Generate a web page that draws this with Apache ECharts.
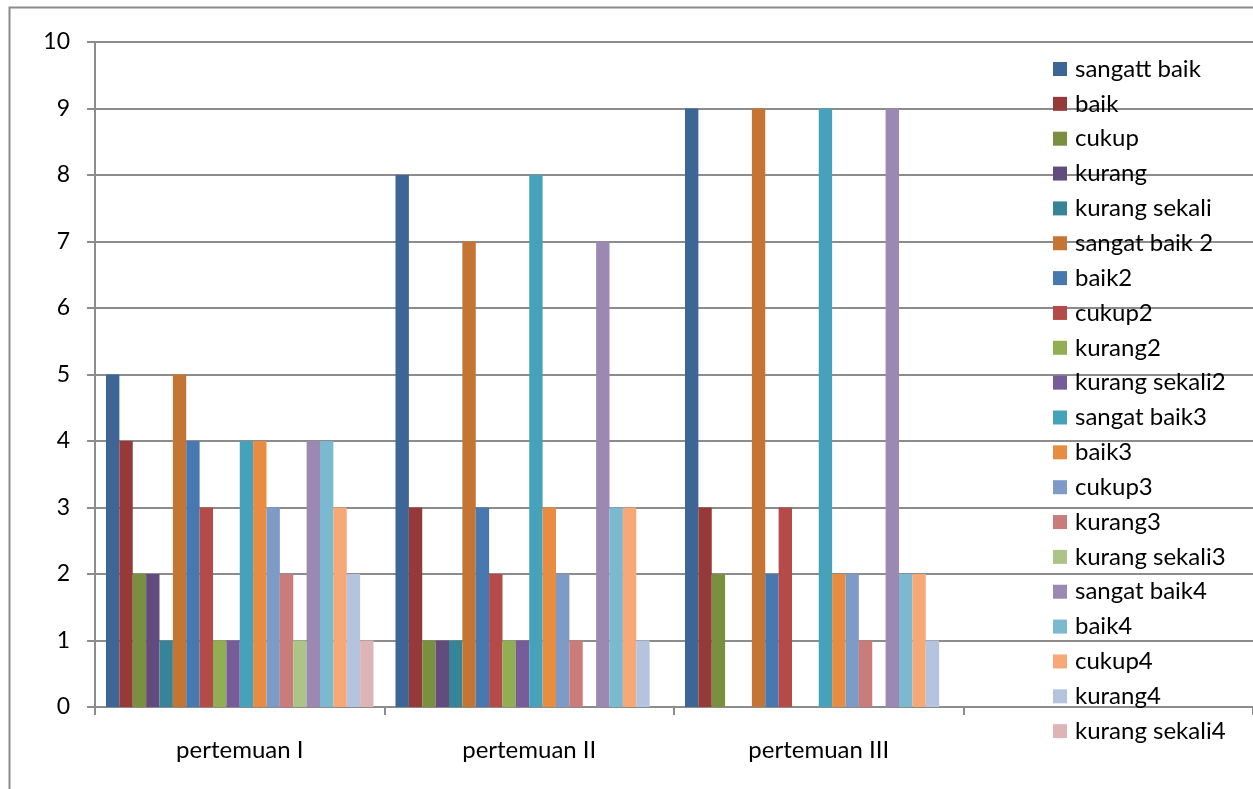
<!DOCTYPE html>
<html>
<head>
<meta charset="utf-8">
<script src="https://cdn.jsdelivr.net/npm/echarts@6/dist/echarts.min.js"></script>
<style>
  html, body { margin: 0; padding: 0; background: #fff; }
  #chart { width: 1253px; height: 789px; }
</style>
</head>
<body>
<div id="chart"></div>
<script>
// Meetings (the fourth slot is an empty category)
const categories = ['pertemuan I', 'pertemuan II', 'pertemuan III', ''];

// Series names, in legend order
const seriesNames = [
  'sangatt baik', 'baik', 'cukup', 'kurang', 'kurang sekali',
  'sangat baik 2', 'baik2', 'cukup2', 'kurang2', 'kurang sekali2',
  'sangat baik3', 'baik3', 'cukup3', 'kurang3', 'kurang sekali3',
  'sangat baik4', 'baik4', 'cukup4', 'kurang4', 'kurang sekali4'
];

// Counts per meeting, one array per series
const sangattBaik   = [5, 8, 9, null];
const baik          = [4, 3, 3, null];
const cukup         = [2, 1, 2, null];
const kurang        = [2, 1, 0, null];
const kurangSekali  = [1, 1, 0, null];
const sangatBaik2   = [5, 7, 9, null];
const baik2         = [4, 3, 2, null];
const cukup2        = [3, 2, 3, null];
const kurang2       = [1, 1, 0, null];
const kurangSekali2 = [1, 1, 0, null];
const sangatBaik3   = [4, 8, 9, null];
const baik3         = [4, 3, 2, null];
const cukup3        = [3, 2, 2, null];
const kurang3       = [2, 1, 1, null];
const kurangSekali3 = [1, 0, 0, null];
const sangatBaik4   = [4, 7, 9, null];
const baik4         = [4, 3, 2, null];
const cukup4        = [3, 3, 2, null];
const kurang4       = [2, 1, 1, null];
const kurangSekali4 = [1, 0, 0, null];

const seriesValues = [
  sangattBaik, baik, cukup, kurang, kurangSekali,
  sangatBaik2, baik2, cukup2, kurang2, kurangSekali2,
  sangatBaik3, baik3, cukup3, kurang3, kurangSekali3,
  sangatBaik4, baik4, cukup4, kurang4, kurangSekali4
];

// Y axis ticks
const yMin = 0, yMax = 10, yStep = 1;

const palette = [
  '#3D6596', '#953A39', '#7A9040', '#624C7E', '#388497',
  '#C47533', '#4878B0', '#B44B48', '#91AE53', '#765C98',
  '#46A2BA', '#E88C42', '#7E9BC8', '#CA7C7A', '#ACC586',
  '#9B89B3', '#7AB9CF', '#F6A977', '#B4C3DE', '#DEB5B6'
];

const FONT = 'Lato';
const chart = echarts.init(document.getElementById('chart'), null, { renderer: 'canvas' });

chart.setOption({
  backgroundColor: '#fff',
  animation: false,
  color: palette,
  textStyle: { fontFamily: FONT, color: '#000' },
  graphic: [{
    type: 'rect',
    left: 7, top: 5,
    shape: { width: 1270, height: 800 },
    style: { fill: 'none', stroke: '#8c8c8c', lineWidth: 2 },
    z: -1
  }],
  grid: { left: 95, top: 42, width: 1160, bottom: 82, containLabel: false },
  legend: {
    orient: 'vertical',
    left: 1053,
    top: 57,
    height: 725,
    padding: 0,
    itemWidth: 14,
    itemHeight: 14,
    itemGap: 10.85,
    icon: 'rect',
    data: seriesNames,
    textStyle: { fontFamily: FONT, fontSize: 24, color: '#000', padding: [0, 0, 0, 3] }
  },
  xAxis: {
    type: 'category',
    data: categories,
    axisLine: { show: true, lineStyle: { color: '#8c8c8c', width: 2 } },
    axisTick: { show: true, length: 8, lineStyle: { color: '#8c8c8c', width: 2 } },
    axisLabel: { fontFamily: FONT, fontSize: 24, color: '#000', margin: 31 },
    splitLine: { show: false }
  },
  yAxis: {
    type: 'value',
    min: yMin, max: yMax, interval: yStep,
    axisLine: { show: true, lineStyle: { color: '#8c8c8c', width: 2 } },
    axisTick: { show: true, length: 8, lineStyle: { color: '#8c8c8c', width: 2 } },
    axisLabel: { fontFamily: FONT, fontSize: 23, color: '#000', margin: 25 },
    splitLine: { show: true, lineStyle: { color: '#8c8c8c', width: 2 } }
  },
  series: seriesNames.map((name, i) => ({
    name: name,
    type: 'bar',
    data: seriesValues[i],
    barGap: '0%',
    barCategoryGap: '7.6%',
    itemStyle: { color: palette[i] }
  }))
});
</script>
</body>
</html>
